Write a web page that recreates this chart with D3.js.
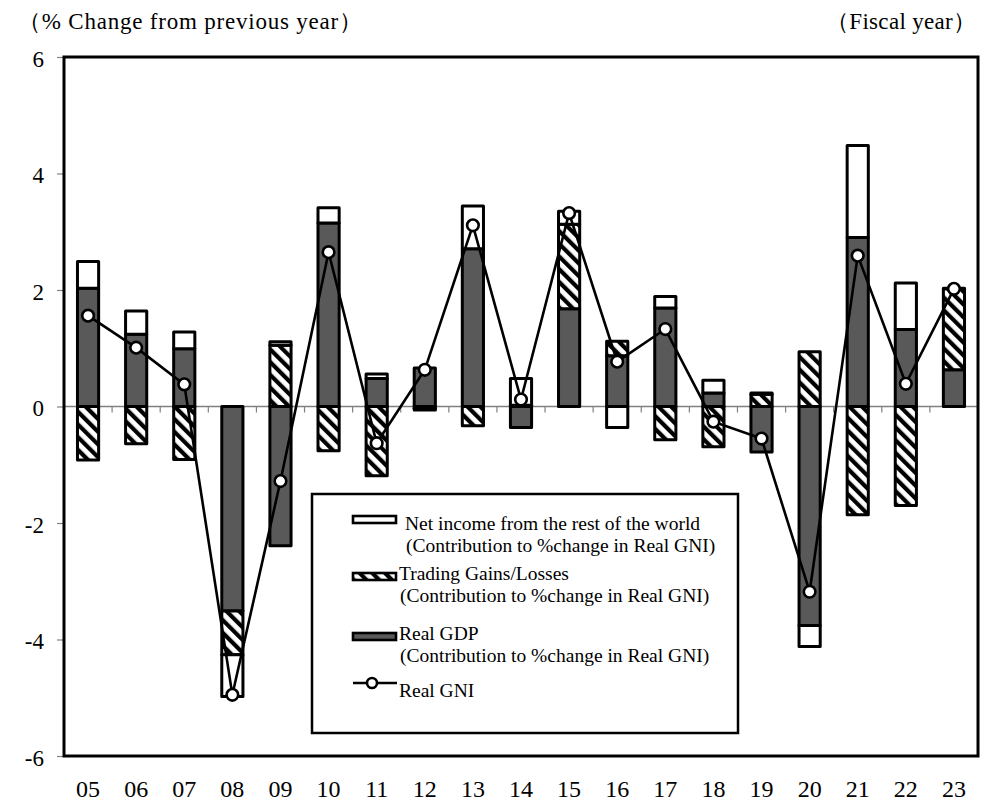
<!DOCTYPE html>
<html>
<head>
<meta charset="utf-8">
<script src="https://cdn.jsdelivr.net/npm/d3@7"></script>
<style>
  body { margin: 0; background: #fff; }
  svg text { font-family: "Liberation Serif", "Times New Roman", serif; fill: #000; }
</style>
</head>
<body>
<div id="chart"></div>
<script>
// fiscal years
var years = ["05","06","07","08","09","10","11","12","13","14","15","16","17","18","19","20","21","22","23"];
// contributions to % change in real GNI
var gdp   = [2.03, 1.24, 0.99, -3.51, -2.39, 3.15, 0.48, 0.66, 2.71, -0.36, 1.68, 0.87, 1.69, 0.23, -0.78, -3.76, 2.90, 1.32, 0.63];
var trade = [-0.92, -0.64, -0.91, -0.75, 1.05, -0.76, -1.19, -0.03, -0.33, 0.02, 1.45, 0.25, -0.57, -0.69, 0.21, 0.94, -1.86, -1.70, 1.39];
var netIncome = [0.46, 0.40, 0.29, -0.72, 0.06, 0.26, 0.08, -0.03, 0.73, 0.46, 0.22, -0.36, 0.20, 0.22, 0.02, -0.36, 1.58, 0.80, 0.01];
// real GNI, % change
var gni   = [1.56, 1.01, 0.38, -4.95, -1.28, 2.65, -0.63, 0.63, 3.11, 0.12, 3.32, 0.77, 1.33, -0.26, -0.55, -3.18, 2.59, 0.39, 2.02];
var yTicks = [-6, -4, -2, 0, 2, 4, 6];

var rows = years.map(function(y, i) {
    return { year: y, gdp: gdp[i], trade: trade[i], ni: netIncome[i], gni: gni[i] };
});

var W = 982, H = 806;
var margin = {top: 57, right: 4, bottom: 50, left: 64};
var width = W - margin.left - margin.right;
var height = H - margin.top - margin.bottom;
var serif = '"Liberation Serif", "Times New Roman", serif';

var svg = d3.select("#chart").append("svg")
    .attr("width", W)
    .attr("height", H);

// hatch pattern for trading gains/losses
var defs = svg.append("defs");
var pat = defs.append("pattern")
    .attr("id", "hatch")
    .attr("patternUnits", "userSpaceOnUse")
    .attr("width", 9)
    .attr("height", 9)
    .attr("patternTransform", "rotate(-45)");
pat.append("rect").attr("width", 9).attr("height", 9).attr("fill", "#fff");
pat.append("rect").attr("x", 0).attr("width", 4.2).attr("height", 9).attr("fill", "#000");

var g = svg.append("g")
    .attr("transform", "translate(" + margin.left + "," + margin.top + ")");

var x = d3.scaleBand()
    .domain(years)
    .range([0, width])
    .paddingInner(0.56)
    .paddingOuter(0.28);

var y = d3.scaleLinear()
    .domain([-6, 6])
    .range([height, 0]);

// y axis (ticks outside, gray), plain hyphen minus
var yAxis = g.append("g")
    .attr("font-family", serif)
    .call(d3.axisLeft(y).tickValues(yTicks).tickSize(7).tickPadding(13)
        .tickFormat(function(d) { return String(d); }));
yAxis.attr("font-family", serif);
yAxis.select(".domain").remove();
yAxis.selectAll("line").attr("stroke", "#808080").attr("stroke-width", 1.2);
yAxis.selectAll("text")
    .style("font-family", serif)
    .style("font-size", "23px")
    .attr("dy", "0.4em");

// zero line with small ticks between categories
g.append("line")
    .attr("x1", 0).attr("x2", width)
    .attr("y1", y(0)).attr("y2", y(0))
    .attr("stroke", "#808080").attr("stroke-width", 1.6);
g.append("g").selectAll("line")
    .data(years.slice(1))
    .enter().append("line")
    .attr("x1", function(d) { return x(d) - x.step() * x.paddingInner() / 2; })
    .attr("x2", function(d) { return x(d) - x.step() * x.paddingInner() / 2; })
    .attr("y1", y(0)).attr("y2", y(0) + 6)
    .attr("stroke", "#808080").attr("stroke-width", 1.2);

// stacked bars
var stack = d3.stack()
    .keys(["gdp", "trade", "ni"])
    .offset(d3.stackOffsetDiverging);
var series = stack(rows);
var fills = { gdp: "#595959", trade: "url(#hatch)", ni: "#fff" };

g.append("g").selectAll("g")
    .data(series)
    .enter().append("g")
    .attr("fill", function(d) { return fills[d.key]; })
    .selectAll("rect")
    .data(function(d) { return d; })
    .enter().append("rect")
    .attr("x", function(d) { return x(d.data.year); })
    .attr("width", x.bandwidth())
    .attr("y", function(d) { return y(Math.max(d[0], d[1])); })
    .attr("height", function(d) { return Math.abs(y(d[0]) - y(d[1])); })
    .attr("stroke", "#000")
    .attr("stroke-width", 3)
    .attr("stroke-linejoin", "round");

// real GNI line
var line = d3.line()
    .x(function(d) { return x(d.year) + x.bandwidth() / 2; })
    .y(function(d) { return y(d.gni); });

g.append("path")
    .datum(rows)
    .attr("d", line)
    .attr("fill", "none")
    .attr("stroke", "#000")
    .attr("stroke-width", 2.6);

g.append("g").selectAll("circle")
    .data(rows)
    .enter().append("circle")
    .attr("cx", function(d) { return x(d.year) + x.bandwidth() / 2; })
    .attr("cy", function(d) { return y(d.gni); })
    .attr("r", 5.8)
    .attr("fill", "#fff")
    .attr("stroke", "#000")
    .attr("stroke-width", 2.6);

// frame
g.append("rect")
    .attr("x", 0).attr("y", 0)
    .attr("width", width).attr("height", height)
    .attr("fill", "none")
    .attr("stroke", "#000")
    .attr("stroke-width", 3);

// x labels
g.append("g").selectAll("text")
    .data(years)
    .enter().append("text")
    .attr("x", function(d) { return x(d) + x.bandwidth() / 2; })
    .attr("y", height + 41)
    .attr("text-anchor", "middle")
    .style("font-size", "24px")
    .text(function(d) { return d; });

// top labels
svg.append("text")
    .attr("x", 18).attr("y", 29)
    .style("font-size", "23px")
    .attr("textLength", 344)
    .attr("lengthAdjust", "spacing")
    .text("（% Change from previous year）");
svg.append("text")
    .attr("x", 826).attr("y", 29)
    .style("font-size", "23px")
    .attr("textLength", 150)
    .attr("lengthAdjust", "spacing")
    .text("（Fiscal year）");

// legend
var lg = svg.append("g");
lg.append("rect")
    .attr("x", 312).attr("y", 494)
    .attr("width", 426).attr("height", 239)
    .attr("fill", "#fff")
    .attr("stroke", "#000")
    .attr("stroke-width", 2.5);

var legendItems = [
    { fill: "#fff", lines: ["Net income from the rest of the world", "(Contribution to %change in Real GNI)"], sy: 516, ty: 530, tx: [405, 406] },
    { fill: "url(#hatch)", lines: ["Trading Gains/Losses", "(Contribution to %change in Real GNI)"], sy: 573, ty: 580, tx: [399, 400] },
    { fill: "#595959", lines: ["Real GDP", "(Contribution to %change in Real GNI)"], sy: 633, ty: 640, tx: [399, 400] }
];
legendItems.forEach(function(it) {
    lg.append("rect")
        .attr("x", 353).attr("y", it.sy)
        .attr("width", 43).attr("height", 7)
        .attr("fill", it.fill)
        .attr("stroke", "#000")
        .attr("stroke-width", 2.6);
    var t = lg.append("text")
        .attr("y", it.ty)
        .style("font-size", "19.5px");
    it.lines.forEach(function(s, j) {
        t.append("tspan")
            .attr("x", it.tx[j])
            .attr("dy", j === 0 ? 0 : 22)
            .text(s);
    });
});
lg.append("line")
    .attr("x1", 353).attr("x2", 397)
    .attr("y1", 683).attr("y2", 683)
    .attr("stroke", "#000").attr("stroke-width", 2.6);
lg.append("circle")
    .attr("cx", 372).attr("cy", 683).attr("r", 5)
    .attr("fill", "#fff").attr("stroke", "#000").attr("stroke-width", 2.6);
lg.append("text")
    .attr("x", 399).attr("y", 697)
    .style("font-size", "19.5px")
    .text("Real GNI");
</script>
</body>
</html>
